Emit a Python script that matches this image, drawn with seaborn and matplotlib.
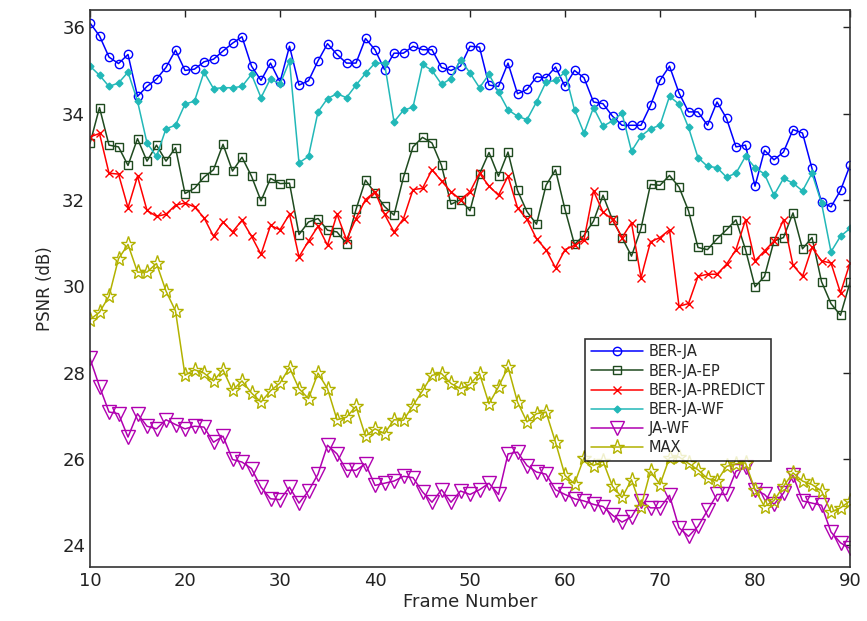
import numpy as np
import pandas as pd
import matplotlib
matplotlib.use("Agg")
import matplotlib.pyplot as plt
import seaborn as sns

frames = list(range(10, 91))

ber_ja = [36.1, 35.8, 35.31, 35.16, 35.37, 34.40, 34.63, 34.8, 35.07, 35.47,
          35.0, 35.03, 35.2, 35.26, 35.45, 35.63, 35.78, 35.1, 34.77, 35.17,
          34.73, 35.56, 34.66, 34.76, 35.22, 35.62, 35.37, 35.17, 35.17, 35.74,
          35.48, 35.02, 35.40, 35.40, 35.56, 35.48, 35.48, 35.07, 35.0, 35.10,
          35.56, 35.54, 34.66, 34.63, 35.17, 34.46, 34.56, 34.85, 34.83, 35.08,
          34.63, 35.0, 34.83, 34.27, 34.23, 33.94, 33.73, 33.73, 33.73, 34.19,
          34.77, 35.10, 34.48, 34.04, 34.04, 33.73, 34.27, 33.89, 33.23, 33.27,
          32.32, 33.15, 32.93, 33.11, 33.63, 33.55, 32.73, 31.95, 31.84, 32.22, 32.80]

ber_ja_ep = [33.31, 34.14, 33.27, 33.23, 32.80, 33.42, 32.90, 33.27, 32.90, 33.21,
             32.15, 32.27, 32.53, 32.70, 33.29, 32.67, 32.99, 32.55, 31.98, 32.50,
             32.38, 32.39, 31.20, 31.49, 31.57, 31.30, 31.26, 30.99, 31.78, 32.46,
             32.16, 31.85, 31.65, 32.53, 33.23, 33.45, 33.32, 32.80, 31.90, 32.01,
             31.75, 32.60, 33.10, 32.55, 33.11, 32.22, 31.73, 31.44, 32.34, 32.70,
             31.78, 30.97, 31.18, 31.51, 32.11, 31.54, 31.13, 30.70, 31.34, 32.36,
             32.34, 32.57, 32.30, 31.75, 30.90, 30.85, 31.10, 31.31, 31.54, 30.85,
             29.99, 30.23, 31.05, 31.13, 31.70, 30.87, 31.13, 30.11, 29.60, 29.33, 30.09]

ber_ja_predict = [33.46, 33.54, 32.62, 32.60, 31.82, 32.55, 31.76, 31.62, 31.67, 31.88,
                  31.93, 31.84, 31.59, 31.16, 31.49, 31.26, 31.53, 31.16, 30.74, 31.41,
                  31.31, 31.67, 30.68, 31.05, 31.39, 30.95, 31.67, 31.08, 31.57, 32.01,
                  32.19, 31.67, 31.26, 31.57, 32.24, 32.27, 32.70, 32.44, 32.19, 32.01,
                  32.19, 32.62, 32.32, 32.11, 32.55, 31.82, 31.55, 31.10, 30.85, 30.43,
                  30.85, 30.95, 31.08, 32.21, 31.72, 31.55, 31.13, 31.47, 30.20, 31.03,
                  31.13, 31.31, 29.54, 29.60, 30.23, 30.28, 30.28, 30.51, 30.85, 31.54,
                  30.59, 30.82, 31.05, 31.54, 30.49, 30.23, 30.90, 30.59, 30.54, 29.85, 30.54]

ber_ja_wf = [35.10, 34.89, 34.63, 34.71, 34.96, 34.29, 33.32, 33.01, 33.65, 33.73,
             34.22, 34.29, 34.96, 34.58, 34.60, 34.60, 34.63, 34.91, 34.37, 34.81,
             34.68, 35.22, 32.86, 33.01, 34.04, 34.35, 34.46, 34.37, 34.66, 34.93,
             35.17, 35.17, 33.81, 34.08, 34.15, 35.14, 35.0, 34.68, 34.81, 35.25,
             34.94, 34.60, 34.91, 34.50, 34.09, 33.94, 33.86, 34.27, 34.73, 34.77,
             34.96, 34.09, 33.55, 34.14, 33.71, 33.83, 34.01, 33.13, 33.48, 33.65,
             33.73, 34.40, 34.22, 33.68, 32.98, 32.78, 32.75, 32.53, 32.62, 33.01,
             32.75, 32.6, 32.11, 32.50, 32.39, 32.21, 32.62, 31.93, 30.80, 31.16, 31.34]

ja_wf = [28.33, 27.68, 27.09, 27.05, 26.51, 27.05, 26.76, 26.70, 26.91, 26.80,
         26.70, 26.76, 26.74, 26.39, 26.53, 25.99, 25.93, 25.78, 25.35, 25.08,
         25.06, 25.35, 24.98, 25.26, 25.65, 26.32, 26.12, 25.74, 25.74, 25.89,
         25.39, 25.44, 25.49, 25.60, 25.57, 25.24, 25.0, 25.29, 25.0, 25.26,
         25.18, 25.29, 25.44, 25.18, 26.12, 26.16, 25.85, 25.70, 25.65, 25.29,
         25.18, 25.08, 25.03, 24.95, 24.90, 24.70, 24.54, 24.66, 25.03, 24.87,
         24.87, 25.16, 24.41, 24.21, 24.44, 24.81, 25.18, 25.18, 25.72, 25.81,
         25.29, 25.18, 24.95, 25.21, 25.62, 25.03, 24.98, 24.93, 24.31, 24.06, 23.93]

max_vals = [29.23, 29.40, 29.77, 30.64, 30.97, 30.33, 30.33, 30.53, 29.89, 29.43,
            27.94, 28.07, 27.99, 27.81, 28.07, 27.59, 27.81, 27.53, 27.32, 27.58,
            27.76, 28.12, 27.63, 27.40, 27.99, 27.63, 26.91, 26.97, 27.22, 26.53,
            26.70, 26.59, 26.91, 26.90, 27.24, 27.58, 27.94, 27.98, 27.75, 27.63,
            27.73, 27.98, 27.28, 27.67, 28.13, 27.32, 26.86, 27.05, 27.09, 26.39,
            25.62, 25.43, 26.03, 25.85, 25.95, 25.37, 25.11, 25.52, 24.90, 25.72,
            25.41, 26.03, 26.05, 25.9, 25.75, 25.55, 25.49, 25.83, 25.89, 25.91,
            25.29, 24.90, 25.04, 25.37, 25.68, 25.49, 25.41, 25.26, 24.77, 24.87, 25.03]

series_names = ["BER-JA", "BER-JA-EP", "BER-JA-PREDICT", "BER-JA-WF", "JA-WF", "MAX"]
series_values = [ber_ja, ber_ja_ep, ber_ja_predict, ber_ja_wf, ja_wf, max_vals]

styles = {
    "BER-JA": dict(color="#0000ff", marker="o", ms=6, mfc="none"),
    "BER-JA-EP": dict(color="#1f4a1f", marker="s", ms=6, mfc="none"),
    "BER-JA-PREDICT": dict(color="#ff0000", marker="x", ms=6, mfc="none"),
    "BER-JA-WF": dict(color="#22b8b8", marker="D", ms=3.5, mfc="#22b8b8"),
    "JA-WF": dict(color="#b000b0", marker="v", ms=10, mfc="none"),
    "MAX": dict(color="#b2b200", marker="*", ms=11, mfc="none"),
}

sns.set_style("white")
plt.rcParams["font.family"] = ["DejaVu Sans"]

fig = plt.figure(figsize=(8.67, 6.21), dpi=100)
ax = fig.add_axes([90 / 867, 1 - 567 / 621, 760 / 867, 557 / 621])

for name, vals in zip(series_names, series_values):
    st = styles[name]
    sns.lineplot(x=frames, y=vals, ax=ax, color=st["color"], marker=st["marker"],
                 markersize=st["ms"], markerfacecolor=st["mfc"],
                 markeredgecolor=st["color"], markeredgewidth=1.0,
                 linewidth=1.1, label=name, estimator=None)

ax.set_xlim(10, 90)
ax.set_ylim(23.5, 36.4)
ax.set_xticks(range(10, 91, 10))
ax.set_yticks(range(24, 37, 2))
ax.tick_params(direction="in", top=True, right=True, length=5, width=1,
               labelsize=13, colors="#222222")
for sp in ax.spines.values():
    sp.set_visible(True)
    sp.set_color("#333333")
    sp.set_linewidth(1.2)

ax.set_xlabel("Frame Number", fontsize=13, labelpad=2)
ax.set_ylabel("PSNR (dB)", fontsize=12, labelpad=6)

leg = ax.legend(loc="upper left", bbox_to_anchor=(0.651, 0.41), fontsize=10.5,
                frameon=True, fancybox=False, edgecolor="black",
                handlelength=3.6, labelspacing=0.28, borderpad=0.4,
                handletextpad=0.4, borderaxespad=0)
leg.get_frame().set_linewidth(1.2)

fig.savefig("out.png", dpi=100, facecolor="white")
